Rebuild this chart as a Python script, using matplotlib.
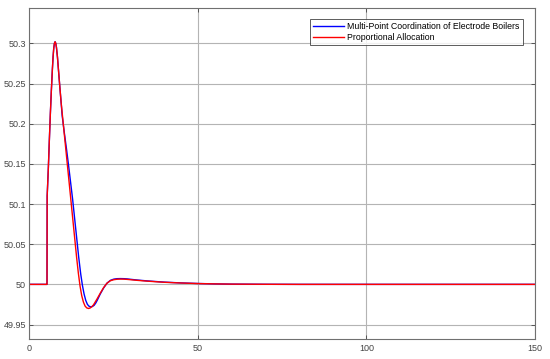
import matplotlib
matplotlib.use("Agg")
import matplotlib.pyplot as plt

# ---- data ----
t_red = [0, 5.15, 5.2, 5.25, 5.6, 5.9, 6.2, 6.5, 6.8, 7.0, 7.2, 7.4, 7.6, 7.8, 8.0,
         8.3, 8.6, 9.0, 9.4, 10.0, 10.5, 11.0, 11.5, 12.0, 12.5, 13.0, 13.5, 14.0,
         14.5, 15.0, 15.5, 16.0, 16.5, 17.0, 17.5, 18.0, 18.5, 19.0, 19.5, 20.0,
         21.0, 22.0, 23.0, 24.0, 25.0, 26.0, 27.0, 28.0, 29.0, 30.0, 32.0, 35.0,
         40.0, 45.0, 50.0, 55.0, 60.0, 70.0, 80.0, 150.0]
f_red = [50.0, 50.0, 50.0, 50.11, 50.145, 50.18, 50.213, 50.242, 50.268, 50.283,
         50.294, 50.300, 50.302, 50.300, 50.295, 50.283, 50.267, 50.246, 50.226,
         50.201, 50.180, 50.159, 50.138, 50.117, 50.096, 50.075, 50.054, 50.033,
         50.014, 49.998, 49.986, 49.978, 49.973, 49.9707, 49.970, 49.9706, 49.9722,
         49.9745, 49.978, 49.9815, 49.989, 49.996, 50.0015, 50.0045, 50.0058,
         50.0064, 50.0066, 50.0065, 50.0062, 50.0058, 50.0050, 50.0040, 50.0026,
         50.0017, 50.0010, 50.0006, 50.0003, 50.0001, 50.0, 50.0]

t_blue = [0, 5.15, 5.2, 5.25, 5.6, 5.9, 6.2, 6.5, 6.8, 7.0, 7.2, 7.4, 7.6, 7.8, 8.0,
          8.3, 8.6, 9.0, 9.4, 9.7, 10.3, 11.0, 11.6, 12.2, 12.8, 13.4, 14.0, 14.6,
          15.2, 15.7, 16.2, 16.7, 17.2, 17.7, 18.2, 18.7, 19.2, 19.7, 20.2, 21.0,
          22.0, 23.0, 24.0, 25.0, 26.0, 27.0, 28.0, 29.0, 30.0, 32.0, 35.0, 40.0,
          45.0, 50.0, 55.0, 60.0, 70.0, 80.0, 150.0]
f_blue = [50.0, 50.0, 50.0, 50.11, 50.145, 50.18, 50.213, 50.242, 50.268, 50.283,
          50.294, 50.300, 50.302, 50.300, 50.295, 50.283, 50.267, 50.246, 50.226,
          50.210, 50.190, 50.168, 50.148, 50.127, 50.106, 50.082, 50.058, 50.034,
          50.013, 49.999, 49.988, 49.980, 49.975, 49.9727, 49.972, 49.9725, 49.974,
          49.977, 49.981, 49.988, 49.9955, 50.0015, 50.005, 50.0065, 50.0071,
          50.0072, 50.0071, 50.0068, 50.0063, 50.0054, 50.0043, 50.0028, 50.0018,
          50.0011, 50.0006, 50.0003, 50.0001, 50.0, 50.0]

series_labels = ["Multi-Point Coordination of Electrode Boilers", "Proportional Allocation"]
x_ticks = [0, 50, 100, 150]
y_ticks = [49.95, 50.0, 50.05, 50.1, 50.15, 50.2, 50.25, 50.3]
y_tick_labels = ["49.95", "50", "50.05", "50.1", "50.15", "50.2", "50.25", "50.3"]

plt.rcParams['font.family'] = ['Liberation Sans', 'DejaVu Sans']

fig = plt.figure(figsize=(5.5, 3.59), dpi=100)
ax = fig.add_axes([0.0536, 0.0557, 0.9191, 0.922])

ax.plot(t_blue, f_blue, color='#0000ff', lw=1.0, label=series_labels[0])
ax.plot(t_red, f_red, color='#ff0000', lw=1.0, label=series_labels[1])

ax.set_xlim(0, 150)
ax.set_ylim(49.932, 50.344)
ax.set_xticks(x_ticks)
ax.set_xticklabels([str(v) for v in x_ticks])
ax.set_yticks(y_ticks)
ax.set_yticklabels(y_tick_labels)

ax.grid(True, color='#b4b4b4', lw=0.8)
ax.set_axisbelow(True)
ax.tick_params(direction='in', length=3, width=0.6, colors='#444444',
               labelsize=6.5, top=True, right=True, pad=2.5)
ax.tick_params(axis='x', pad=3.5)
for s in ax.spines.values():
    s.set_color('#707070')
    s.set_linewidth(0.8)

leg = ax.legend(loc='upper right', bbox_to_anchor=(0.976, 0.968), fontsize=6.3,
                frameon=True, fancybox=False, handlelength=3.6, handletextpad=0.35,
                borderpad=0.35, labelspacing=0.25, borderaxespad=0.0)
leg.get_frame().set_edgecolor('#333333')
leg.get_frame().set_linewidth(0.7)

fig.savefig('out.png', dpi=100)
